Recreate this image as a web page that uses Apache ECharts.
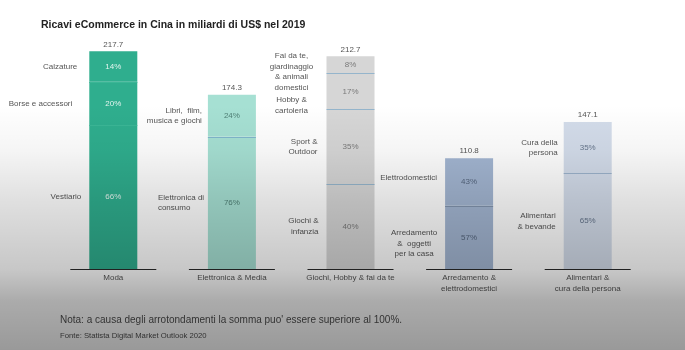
<!DOCTYPE html>
<html>
<head>
<meta charset="utf-8">
<script src="https://cdn.jsdelivr.net/npm/echarts@6/dist/echarts.min.js"></script>
<style>html,body{margin:0;padding:0;background:#fff}#c{width:685px;height:350px}</style>
</head>
<body>
<div id="c"></div>
<script>
// ---- data ----
const categories = ['Moda', 'Elettronica & Media', 'Giochi, Hobby & fai da te', 'Arredamento &\nelettrodomestici', 'Alimentari &\ncura della persona'];
const totals = [217.7, 174.3, 212.7, 110.8, 147.1];
// segments listed bottom -> top
const segmentNames = [
  ['Vestiario', 'Borse e accessori', 'Calzature'],
  ['Elettronica di\nconsumo', 'Libri,  film,\nmusica e giochi'],
  ['Giochi &\ninfanzia', 'Sport &\nOutdoor', 'Hobby &\ncartoleria', 'Fai da te,\ngiardinaggio\n& animali\ndomestici'],
  ['Arredamento\n&  oggetti\nper la casa', 'Elettrodomestici'],
  ['Alimentari\n& bevande', 'Cura della\npersona']
];
const segmentShares = [
  [66, 20, 14],
  [76, 24],
  [40, 35, 17, 8],
  [57, 43],
  [65, 35]
];
const titleText = 'Ricavi eCommerce in Cina in miliardi di US$ nel 2019';
const noteText = "Nota: a causa degli arrotondamenti la somma puo' essere superiore al 100%.";
const sourceText = 'Fonte: Statista Digital Market Outlook 2020';

// ---- styles ----
const FONT = "'Liberation Sans', Arial, sans-serif";
const barColors = ['#2fae8e', '#a6e0d3', '#d6d6d6', '#a3b6d2', '#d3dcea'];
const pctColors = ['#e2f4ee', '#4f7f75', '#7a7a7a', '#56677f', '#66768c'];
const dividerColors = ['#3bb696', '#80b6cc', '#95b5cc', '#8294ae', '#9cb3cc'];
// name label layout per category / segment: [align, distance, dy]
const nameLayout = [
  [['right', 8, 0], ['right', 17, 0], ['right', 12, 0]],
  [['left', 50, 0], ['right', 6, 0]],
  [['right', 8, 0], ['right', 9, 0], ['center', 35, 14], ['center', 35, 7]],
  [['center', 31, 6], ['right', 8, -4]],
  [['right', 8, 0], ['right', 6, 0]]
];
const BAR_W = 48;

const maxSeg = Math.max(...segmentShares.map(s => s.length));
const series = [];
for (let k = 0; k < maxSeg; k++) {
  const nameData = [], pctData = [];
  categories.forEach((c, i) => {
    if (k < segmentShares[i].length) {
      const v = totals[i] * segmentShares[i][k] / 100;
      const lay = nameLayout[i][k];
      nameData.push({
        value: v,
        itemStyle: { color: barColors[i] },
        label: {
          show: true, position: 'left', distance: lay[1], align: lay[0],
          offset: [0, lay[2]], formatter: segmentNames[i][k],
          color: '#555', fontSize: 8, lineHeight: 10.5, fontFamily: FONT
        }
      });
      pctData.push({
        value: v,
        itemStyle: { color: 'rgba(0,0,0,0)' },
        label: {
          show: true, position: 'inside', formatter: segmentShares[i][k] + '%',
          color: pctColors[i], fontSize: 8, fontFamily: FONT
        }
      });
    } else {
      nameData.push('-');
      pctData.push('-');
    }
  });
  series.push({ type: 'bar', stack: 'a', barWidth: BAR_W, barGap: '-100%', data: nameData, silent: true, z: 2 });
  series.push({ type: 'bar', stack: 'b', barWidth: BAR_W, barGap: '-100%', data: pctData, silent: true, z: 3 });
}

series.push({
  type: 'custom',
  z: 4,
  silent: true,
  data: totals.map((t, i) => [i, t]),
  renderItem: function (params, api) {
    const i = api.value(0);
    const base = api.coord([i, 0]);
    const top = api.coord([i, api.value(1)]);
    const children = [];
    let cum = 0;
    const sh = segmentShares[i];
    for (let k = 0; k < sh.length - 1; k++) {
      cum += totals[i] * sh[k] / 100;
      const p = api.coord([i, cum]);
      children.push({
        type: 'line',
        shape: { x1: p[0] - BAR_W / 2, y1: Math.round(p[1]) + 0.5, x2: p[0] + BAR_W / 2, y2: Math.round(p[1]) + 0.5 },
        style: { stroke: dividerColors[i], lineWidth: 1 }
      });
    }
    children.push({
      type: 'line',
      shape: { x1: base[0] - 43, y1: Math.round(base[1]) + 0.5, x2: base[0] + 43, y2: Math.round(base[1]) + 0.5 },
      style: { stroke: '#2a2a2a', lineWidth: 1 }
    });
    children.push({
      type: 'text',
      x: top[0], y: top[1] - 3,
      style: { text: totals[i].toFixed(1), textAlign: 'center', textVerticalAlign: 'bottom', fontSize: 8, fill: '#555', fontFamily: FONT }
    });
    return { type: 'group', children: children };
  }
});

const chart = echarts.init(document.getElementById('c'), null, { renderer: 'canvas' });
chart.setOption({
  animation: false,
  backgroundColor: '#ffffff',
  title: {
    text: titleText, left: 36, top: 15,
    textStyle: { fontSize: 10.5, fontWeight: 'bold', color: '#222', fontFamily: FONT }
  },
  grid: { left: 54, right: 38, top: 39, bottom: 81 },
  xAxis: {
    type: 'category', data: categories,
    axisLine: { show: false }, axisTick: { show: false },
    axisLabel: { interval: 0, fontSize: 8, color: '#555', lineHeight: 10.5, margin: 4, fontFamily: FONT }
  },
  yAxis: { type: 'value', min: 0, max: 230, show: false },
  graphic: [
    { type: 'text', left: 60, top: 315, z: 50, silent: true,
      style: { text: noteText, fontSize: 10, fill: '#505050', fontFamily: FONT } },
    { type: 'text', left: 60, top: 332, z: 50, silent: true,
      style: { text: sourceText, fontSize: 7.7, fill: '#505050', fontFamily: FONT } },
    { type: 'rect', left: 0, top: 0, z: 100, silent: true,
      shape: { width: 685, height: 350 },
      style: { fill: new echarts.graphic.LinearGradient(0, 0, 0, 1, [
        { offset: 0, color: 'rgba(0,0,0,0)' },
        { offset: 0.30, color: 'rgba(0,0,0,0)' },
        { offset: 0.43, color: 'rgba(0,0,0,0.04)' },
        { offset: 0.57, color: 'rgba(0,0,0,0.12)' },
        { offset: 0.77, color: 'rgba(0,0,0,0.22)' },
        { offset: 0.86, color: 'rgba(0,0,0,0.33)' },
        { offset: 1, color: 'rgba(0,0,0,0.40)' }
      ]) } }
  ],
  series: series
});
</script>
</body>
</html>
